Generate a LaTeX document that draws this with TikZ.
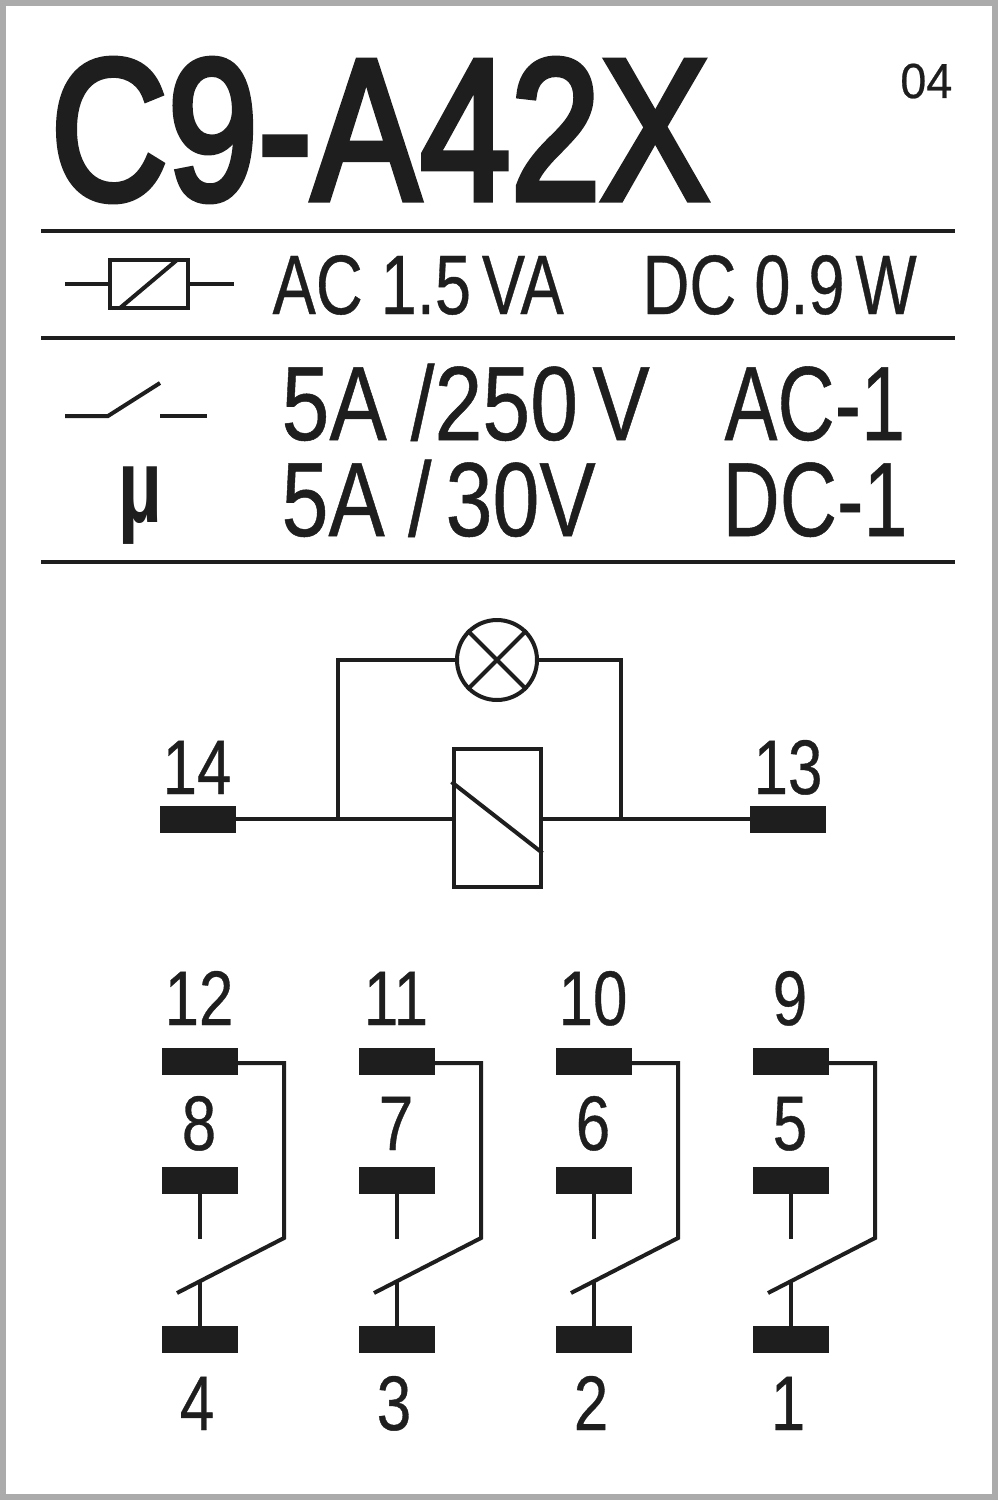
\documentclass[tikz,border=0pt]{standalone}
\usepackage{fontspec}
\setmainfont{Liberation Sans}
\newfontfamily\heavyfont[FakeBold=0.5]{Liberation Sans}
\newfontfamily\titlefont[FakeBold=3.5]{Liberation Sans}
\usepackage{tikz}
\usetikzlibrary{positioning}
\tikzset{terminal box/.style={
        fill=termblack, minimum width=7.6mm, minimum height=2.7mm,
        inner sep=0pt, outer sep=0pt,
    },
    wire/.style={
        draw=termblack, line width=0.4mm,
    },
    rule line/.style={
        draw=termblack, line width=0.4mm,
    },
    pin label/.style={
        font=\heavyfont\fontsize{22}{22}\selectfont, text=termblack, inner sep=0pt, anchor=base,
        xscale=0.8,
    },
    rating label/.style={
        font=\heavyfont\fontsize{30}{30}\selectfont, text=termblack, inner sep=0pt, anchor=base west,
        xscale=0.8,
    },
    power label/.style={
        font=\heavyfont\fontsize{24}{24}\selectfont, text=termblack, inner sep=0pt, anchor=base west,
        xscale=0.77,
    },
}
\definecolor{termblack}{HTML}{1E1E1E}
\definecolor{framegray}{HTML}{ABABAB}

\begin{document}
\begin{tikzpicture}[x=0.1mm, y=-0.1mm]
    \useasboundingbox (0,0) rectangle (998,1500);
    \draw [draw=framegray, line width=0.6mm, fill=white] (3,3) rectangle (995,1497);

    %% title and rules
    \node [font=\titlefont\fontsize{57}{57}\selectfont, text=termblack, inner sep=0pt, anchor=base west, xscale=0.81] (title) at (50,199) {C9-A42X};
    \node [font=\heavyfont\fontsize{14}{14}\selectfont, text=termblack, inner sep=0pt, anchor=base east, xscale=0.95] (code) at (953,98) {04};
    \draw [rule line] (41,231) -- (955,231);
    \draw [rule line] (41,338) -- (955,338);
    \draw [rule line] (41,562) -- (955,562);

    %% coil symbol of the power row
    \node [wire, minimum width=7.8mm, minimum height=4.8mm, inner sep=0pt] (coilsmall) at (149,284) {};
    \draw [wire] (65,284) -- (coilsmall.west);
    \draw [wire] (coilsmall.east) -- (234,284);
    \draw [wire] (120,308) -- (177,260);
    \node [power label] (acpower) at (272,314) {AC 1.5\,VA};
    \node [power label] (dcpower) at (642,314) {DC 0.9\,W};

    %% contact symbol and ratings
    \coordinate (swa) at (65,416);
    \coordinate (swb) at (108,416);
    \coordinate (swc) at (160,383);
    \draw [wire] (swa) -- (swb) -- (swc);
    \draw [wire] (160,416) -- (207,416);
    \node [font=\bfseries\fontsize{30}{30}\selectfont, text=termblack, inner sep=0pt, anchor=base, xscale=0.72] (micro) at (140,522) {µ};
    \node [rating label, xscale=1.02] (acamp) at (281,440) {5A /250\,V};
    \node [rating label] (dcamp) at (281,536) {5A /\,30V};
    \node [rating label, xscale=0.94] (acone) at (724,440) {AC-1};
    \node [rating label, xscale=0.94] (dcone) at (722,536) {DC-1};

    %% coil with lamp in parallel
    \node [terminal box] (T14) at (198,819) {};
    \node [terminal box] (T13) at (788,819) {};
    \node [pin label] (L14) at (197,794) {14};
    \node [pin label] (L13) at (788,794) {13};
    \node [wire, fill=white, minimum width=8.7mm, minimum height=13.8mm, inner sep=0pt] (coil) at (497,818) {};
    \node [wire, circle, minimum size=8mm, inner sep=0pt] (lamp) at (497,660) {};
    \coordinate (jl) at (338,819);
    \coordinate (jr) at (621,819);
    \draw [wire] (T14.east) -- (coil.west |- T14.east);
    \draw [wire] (coil.east |- T13.west) -- (T13.west);
    \draw [wire] (jl) |- (lamp.west);
    \draw [wire] (jr) |- (lamp.east);
    \draw [wire] (lamp.45) -- (lamp.225);
    \draw [wire] (lamp.135) -- (lamp.315);
    \draw [wire] (coil.west |- 0,782) -- (coil.east |- 0,853);

    %% contact columns
    \foreach \x/\top/\mid/\bot in {200/12/8/4, 397/11/7/3, 594/10/6/2, 791/9/5/1}{
        \node [terminal box] (A\bot) at (\x,1061) {};
        \node [terminal box] (B\bot) at (\x,1180) {};
        \node [terminal box] (C\bot) at (\x,1339) {};
        \node [pin label] (LA\bot) at (\x-1,1025) {\top};
        \node [pin label] (LB\bot) at (\x-1,1150) {\mid};
        \node [pin label] (LC\bot) at (\x-3,1430) {\bot};
        \draw [wire] (A\bot.east) ++(0,2) -- ++(46,0) -- ++(0,175) -- ++(-107,55);
        \draw [wire] (B\bot.south) -- ++(0,45);
        \draw [wire] (C\bot.north) -- ++(0,-45);
    }
\end{tikzpicture}
\end{document}
